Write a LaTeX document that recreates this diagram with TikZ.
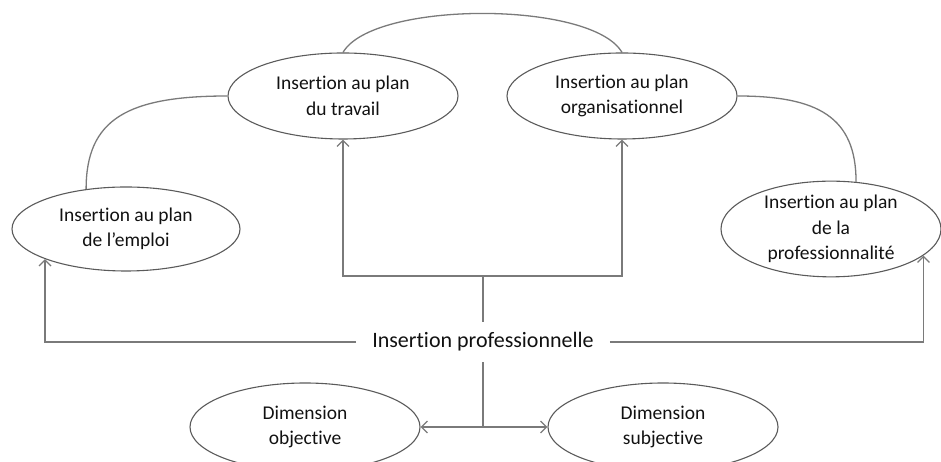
\documentclass[tikz,border=0pt]{standalone}
\usepackage{fontspec}
\setmainfont{Carlito}[Ligatures=NoCommon]
\usetikzlibrary{shapes.geometric,arrows.meta}
\definecolor{linec}{HTML}{7A7A7A}
\definecolor{ellc}{HTML}{5A5A5A}
\definecolor{txtc}{HTML}{111111}
\begin{document}
\begin{tikzpicture}[x=1pt,y=1pt,
  ell/.style={ellipse, draw=ellc, line width=1.1pt, inner sep=0pt, align=center,
    text=txtc, font=\fontsize{19.5}{25.5}\selectfont},
  conn/.style={draw=linec, line width=1.3pt},
  arr/.style={conn, -{Straight Barb[length=6pt,width=12pt]}}]
\useasboundingbox (0,0) rectangle (941,462);
\node[ell, minimum width=230pt, minimum height=86pt] (trav) at (343,366) {Insertion au plan\\du travail};
\node[ell, minimum width=230pt, minimum height=86pt] (org) at (622,366) {Insertion au plan\\organisationnel};
\node[ell, minimum width=228pt, minimum height=84pt] (emp) at (126,233) {Insertion au plan\\de l’emploi};
\node[ell, minimum width=220pt, minimum height=84pt] (prof) at (831,233) {Insertion au plan\\de la\\professionnalité};
\node[ell, minimum width=230pt, minimum height=88pt] (obj) at (305,35) {Dimension\\objective};
\node[ell, minimum width=230pt, minimum height=88pt] (subj) at (663,35) {Dimension\\subjective};
\node[inner xsep=16pt, inner ysep=0pt, minimum height=40pt, text=txtc,
  font=\fontsize{22}{26}\selectfont] (ip) at (483,120) {Insertion professionnelle};
\coordinate (j1) at (483,186);
\coordinate (j2) at (483,35);
% arcs
\draw[conn] (trav.north) .. controls +(30,52) and +(-30,52) .. (org.north);
\draw[conn] (emp.135.5) .. controls +(0,70) and +(-100,0) .. (trav.west);
\draw[conn] (org.east) .. controls +(80,0) and +(0,65) .. (prof.62);
% connectors
\draw[conn] (ip.north) -- (j1);
\draw[arr] (j1) -| (trav.south);
\draw[arr] (j1) -| (org.south);
\draw[arr] (ip.west) -| (emp.south west);
\draw[arr] (ip.east) -| (prof.-16);
\draw[conn] (ip.south) -- (j2);
\draw[arr] (j2) -- (obj.east);
\draw[arr] (j2) -- (subj.west);
\end{tikzpicture}
\end{document}
